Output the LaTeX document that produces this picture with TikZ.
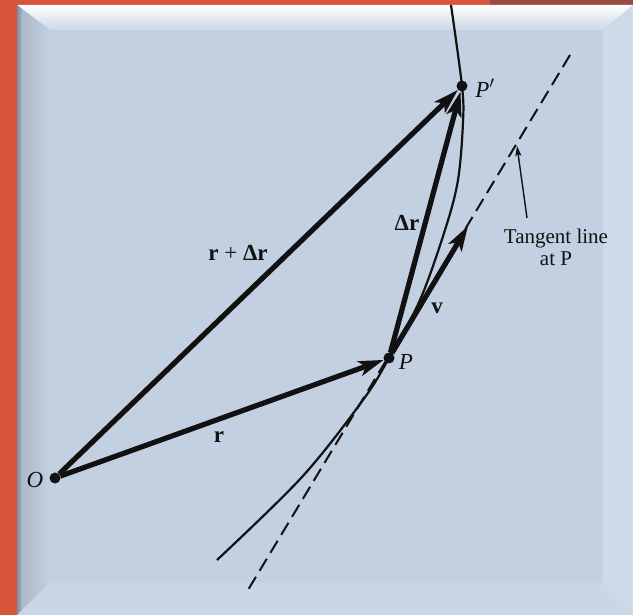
\documentclass[tikz,border=0pt]{standalone}
\usepackage{fontspec}
\setmainfont{Liberation Serif}
\usetikzlibrary{arrows.meta}
\definecolor{redc}{HTML}{D6553B}
\definecolor{brownc}{HTML}{9A4B43}
\definecolor{panel}{HTML}{C3D0E2}
\definecolor{bevL}{HTML}{A9B6C8}
\definecolor{bevD}{HTML}{7F8DA0}
\definecolor{ink}{HTML}{111111}
\tikzset{
  dot/.style={circle,fill=ink,inner sep=0pt,minimum size=11pt},
  vec/.style={draw=ink,line width=5.2pt,-{Stealth[length=25pt,width=15pt,inset=6pt]}},
  path/.style={draw=ink,line width=2.2pt},
  tangent/.style={draw=ink,line width=2pt,dash pattern=on 14pt off 7pt},
  pointer/.style={draw=ink,line width=1.4pt,-{Stealth[length=10pt,width=6pt,inset=2pt]}},
  lab/.style={font=\fontsize{23}{24}\selectfont,text=ink,inner sep=0pt},
  tlab/.style={font=\fontsize{21}{22}\selectfont,text=ink,inner sep=0pt},
}
\begin{document}
\begin{tikzpicture}[x=1pt,y=-1pt]
\useasboundingbox (0,0) rectangle (633,615);
% frame and panel
\fill[redc] (0,0) rectangle (633,615);
\fill[brownc] (490,0) rectangle (633,5);
\fill[panel] (17,5) rectangle (633,615);
\shade[top color=white,bottom color=panel!85!white] (17,5) -- (633,5) -- (603,30) -- (50,30) -- cycle;
\shade[left color=bevL,right color=panel] (17,5) -- (50,30) -- (50,583) -- (17,615) -- cycle;
\shade[left color=bevD,right color=bevL] (17,5) -- (22,9) -- (22,610) -- (17,615) -- cycle;
\fill[panel!80!white] (633,5) -- (633,615) -- (603,583) -- (603,30) -- cycle;
\fill[panel!88!white] (17,615) -- (50,583) -- (603,583) -- (633,615) -- cycle;
% points
\node[dot] (O) at (55,478) {};
\node[dot] (P) at (389,358) {};
\node[dot] (Pp) at (462,86) {};
% path of the particle
\draw[path] plot[smooth,tension=0.55] coordinates {(451,5) (462,86) (463,122) (458,180) (445,230) (420,300) (389,358) (363,400) (302,477) (217,560)};
% tangent line
\coordinate (T1) at (570,55);
\coordinate (T2) at (248,590);
\draw[tangent] (T1) -- (T2);
% vectors
\coordinate (V) at (468,226);
\draw[vec] (O) -- (P);
\draw[vec] (O) -- (Pp);
\draw[vec] (P) -- (Pp);
\draw[vec] (P) -- (V);
% labels
\node[lab] (lO) at (35,480) {\itshape O};
\node[lab] (lP) at (406,362) {\itshape P};
\node[lab] (lPp) at (485,88) {\itshape P\/$'$};
\node[lab] (lrdr) at (238,253) {\textbf{r} + \textbf{Δr}};
\node[lab] (ldr) at (407,223) {\textbf{Δr}};
\node[lab] (lv) at (437,308) {\textbf{v}};
\node[lab] (lr) at (219,437) {\textbf{r}};
\node[tlab,align=center] (ltan) at (556,247) {Tangent line\\at P};
\coordinate (ts) at (527,218);
\coordinate (te) at (517,146);
\draw[pointer] (ts) -- (te);
\end{tikzpicture}
\end{document}
